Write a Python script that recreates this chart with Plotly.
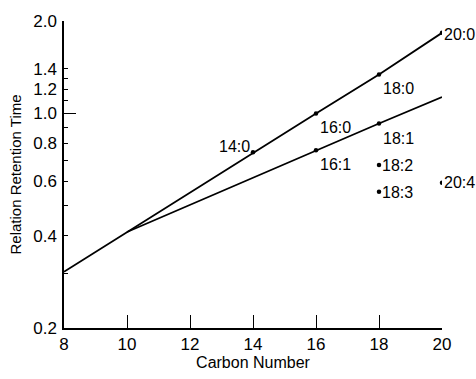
import math
import plotly.graph_objects as go

# ---- data ----
sat_carbon = [8, 10, 14, 16, 18, 20]
sat_rrt = [0.305, 0.411, 0.747, 1.0, 1.34, 1.83]

unsat_carbon = [10, 16, 18, 20]
unsat_rrt = [0.411, 0.759, 0.927, 1.13]

point_names = ["14:0", "16:0", "18:0", "20:0", "16:1", "18:1", "18:2", "18:3", "20:4"]
point_carbon = [14, 16, 18, 20, 16, 18, 18, 18, 20]
point_rrt = [0.747, 1.0, 1.34, 1.83, 0.759, 0.927, 0.679, 0.556, 0.594]

x_ticks = [10, 12, 14, 16, 18, 20]
x_labels = ["8", "10", "12", "14", "16", "18", "20"]
y_ticks = [0.2, 0.4, 0.6, 0.8, 1.0, 1.2, 1.4, 2.0]
y_labels = ["0.2", "0.4", "0.6", "0.8", "1.0", "1.2", "1.4", "2.0"]
y_minor = [0.3, 0.5, 0.7, 0.9, 1.1, 1.3]
y_long = [1.0, 2.0]

# ---- styling ----
FONT = "Liberation Sans Narrow, Liberation Sans, Arial, sans-serif"
label_style = {
    "14:0": dict(xanchor="right", yanchor="middle", xshift=-1, yshift=6),
    "16:0": dict(xanchor="left", yanchor="top", xshift=2, yshift=-4),
    "18:0": dict(xanchor="left", yanchor="top", xshift=2, yshift=-4),
    "20:0": dict(xanchor="left", yanchor="middle", xshift=0, yshift=-2),
    "16:1": dict(xanchor="left", yanchor="top", xshift=2, yshift=-4),
    "18:1": dict(xanchor="left", yanchor="top", xshift=2, yshift=-4),
    "18:2": dict(xanchor="left", yanchor="middle", xshift=1, yshift=0),
    "18:3": dict(xanchor="left", yanchor="middle", xshift=1, yshift=-1),
    "20:4": dict(xanchor="left", yanchor="middle", xshift=0, yshift=0),
}

fig = go.Figure()
fig.add_trace(go.Scatter(x=sat_carbon, y=sat_rrt, mode="lines",
                         line=dict(color="black", width=1.8), hoverinfo="skip"))
fig.add_trace(go.Scatter(x=unsat_carbon, y=unsat_rrt, mode="lines",
                         line=dict(color="black", width=1.8), hoverinfo="skip"))
fig.add_trace(go.Scatter(x=point_carbon, y=point_rrt, mode="markers",
                         marker=dict(color="black", size=4.5), hoverinfo="skip"))
# invisible trace to anchor the overlay axis for long ticks
fig.add_trace(go.Scatter(x=[8], y=[1.0], mode="markers", marker=dict(opacity=0),
                         yaxis="y2", hoverinfo="skip"))

for name, cx, ry in zip(point_names, point_carbon, point_rrt):
    fig.add_annotation(x=cx, y=math.log10(ry), text=name, showarrow=False,
                       font=dict(family=FONT, size=16, color="black"),
                       **label_style[name])

yrange = [math.log10(0.2), math.log10(2.0)]

fig.update_layout(
    width=476, height=379,
    margin=dict(l=64, r=34, t=20, b=48),
    paper_bgcolor="white", plot_bgcolor="white",
    showlegend=False,
    font=dict(family=FONT, size=16, color="black"),
    xaxis=dict(
        range=[8, 20], tickmode="array", tickvals=[8] + x_ticks, ticktext=x_labels,
        ticks="inside", ticklen=13, tickwidth=1.2, tickcolor="black",
        showline=True, linecolor="black", linewidth=1.5,
        showgrid=False, zeroline=False,
        title=dict(text="Carbon Number", font=dict(size=16), standoff=2),
        tickfont=dict(size=17),
    ),
    yaxis=dict(
        type="log", range=yrange, tickmode="array", tickvals=y_ticks, ticktext=y_labels,
        ticks="inside", ticklen=4, tickwidth=1.2, tickcolor="black",
        minor=dict(tickmode="array", tickvals=y_minor, ticks="inside", ticklen=4,
                   tickwidth=1.2, tickcolor="black", showgrid=False),
        showline=True, linecolor="black", linewidth=1.5,
        showgrid=False, zeroline=False,
        title=dict(text="Relation Retention Time", font=dict(size=15), standoff=8),
        tickfont=dict(size=17), ticklabelstandoff=2,
    ),
    yaxis2=dict(
        type="log", range=yrange, overlaying="y", side="left", anchor="x",
        tickmode="array", tickvals=y_long, showticklabels=False,
        ticks="inside", ticklen=12, tickwidth=1.2, tickcolor="black",
        showline=False, showgrid=False, zeroline=False,
    ),
)

fig.write_html("out.html")
